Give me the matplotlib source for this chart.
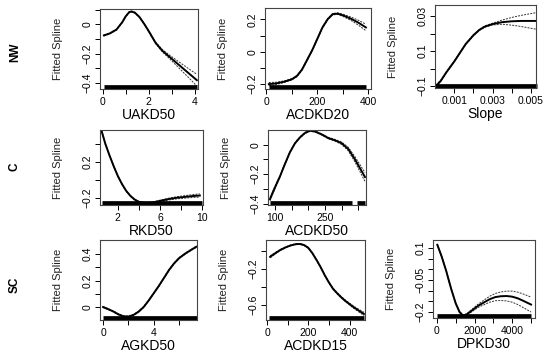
import matplotlib
matplotlib.use('Agg')
import matplotlib.pyplot as plt
import matplotlib.transforms as mtransforms
import numpy as np

plt.rcParams['font.family'] = ['Liberation Sans', 'DejaVu Sans']
plt.rcParams['axes.unicode_minus'] = True

W, H = 550, 359

# ---- curves (x, fitted spline, half width of band) ----
uakd50_x = [0.05, 0.3, 0.6, 0.85, 1.0, 1.15, 1.25, 1.4, 1.6, 1.8, 2.0, 2.3, 2.6, 2.9, 3.2, 3.5, 3.8, 4.1]
uakd50_y = [-0.075, -0.062, -0.035, 0.015, 0.055, 0.083, 0.088, 0.08, 0.05, 0.005, -0.045, -0.125, -0.18, -0.22, -0.26, -0.3, -0.34, -0.38]
uakd50_se = [0.004, 0.003, 0.003, 0.003, 0.003, 0.003, 0.003, 0.003, 0.003, 0.003, 0.004, 0.005, 0.008, 0.012, 0.018, 0.025, 0.032, 0.04]

acdkd20_x = [10, 40, 70, 100, 120, 140, 160, 180, 200, 220, 240, 260, 280, 300, 330, 360, 390]
acdkd20_y = [-0.2, -0.195, -0.185, -0.17, -0.15, -0.11, -0.05, 0.01, 0.08, 0.15, 0.2, 0.232, 0.235, 0.225, 0.205, 0.18, 0.15]
acdkd20_se = [0.01, 0.007, 0.005, 0.004, 0.004, 0.004, 0.004, 0.004, 0.004, 0.004, 0.004, 0.004, 0.005, 0.007, 0.01, 0.015, 0.02]

slope_x = [0.00005, 0.0003, 0.0006, 0.001, 0.0013, 0.0016, 0.002, 0.0023, 0.0026, 0.003, 0.0035, 0.004, 0.0045, 0.005, 0.0053]
slope_y = [-0.1, -0.07, -0.02, 0.04, 0.09, 0.14, 0.19, 0.22, 0.24, 0.254, 0.265, 0.27, 0.272, 0.272, 0.272]
slope_se = [0.006, 0.004, 0.003, 0.003, 0.003, 0.003, 0.003, 0.003, 0.004, 0.005, 0.012, 0.022, 0.032, 0.042, 0.048]

rkd50_x = [0.45, 0.8, 1.2, 1.6, 2.0, 2.4, 2.8, 3.2, 3.6, 4.0, 4.6, 5.2, 6.0, 6.8, 7.6, 8.4, 9.2, 9.8]
rkd50_y = [0.54, 0.4, 0.27, 0.15, 0.04, -0.05, -0.125, -0.18, -0.22, -0.245, -0.26, -0.255, -0.235, -0.215, -0.2, -0.19, -0.18, -0.175]
rkd50_se = [0.01, 0.008, 0.006, 0.005, 0.005, 0.005, 0.005, 0.005, 0.005, 0.005, 0.005, 0.006, 0.008, 0.01, 0.012, 0.014, 0.016, 0.018]

acdkd50_x = [85, 100, 115, 130, 145, 160, 175, 190, 205, 220, 240, 260, 280, 300, 320, 340, 355, 370]
acdkd50_y = [-0.37, -0.29, -0.215, -0.13, -0.05, 0.01, 0.05, 0.08, 0.095, 0.09, 0.07, 0.045, 0.03, 0.01, -0.03, -0.1, -0.16, -0.22]
acdkd50_se = [0.012, 0.008, 0.005, 0.004, 0.004, 0.004, 0.004, 0.004, 0.004, 0.004, 0.004, 0.005, 0.006, 0.008, 0.012, 0.018, 0.024, 0.03]

agkd50_x = [0, 0.4, 0.8, 1.2, 1.6, 2.0, 2.4, 2.8, 3.2, 3.6, 4.0, 4.4, 4.8, 5.2, 5.6, 6.0, 6.5, 7.0, 7.35]
agkd50_y = [0.0, -0.016, -0.033, -0.055, -0.07, -0.072, -0.06, -0.035, 0.0, 0.05, 0.105, 0.16, 0.22, 0.28, 0.33, 0.37, 0.405, 0.435, 0.455]
agkd50_se = [0.004] * 19

acdkd15_x = [15, 40, 65, 90, 115, 140, 160, 180, 200, 220, 240, 260, 280, 300, 320, 340, 360, 380, 400, 420, 440, 470]
acdkd15_y = [-0.065, -0.025, 0.012, 0.04, 0.062, 0.076, 0.078, 0.065, 0.035, -0.025, -0.1, -0.18, -0.27, -0.35,
             -0.42, -0.47, -0.515, -0.555, -0.59, -0.625, -0.655, -0.7]
acdkd15_se = [0.012, 0.008, 0.006, 0.005, 0.005, 0.005, 0.005, 0.005, 0.005, 0.005, 0.005, 0.005, 0.005, 0.005,
              0.006, 0.007, 0.008, 0.009, 0.01, 0.012, 0.014, 0.018]

dpkd30_x = [20, 250, 500, 750, 1000, 1200, 1400, 1600, 1900, 2200, 2500, 2800, 3100, 3400, 3700, 4000, 4300, 4600, 5000]
dpkd30_y = [0.115, 0.06, -0.01, -0.09, -0.16, -0.2, -0.218, -0.21, -0.19, -0.17, -0.155, -0.14, -0.13, -0.126,
            -0.125, -0.128, -0.136, -0.148, -0.165]
dpkd30_se = [0.003, 0.003, 0.003, 0.003, 0.003, 0.003, 0.003, 0.004, 0.006, 0.008, 0.011, 0.014, 0.017, 0.02,
             0.023, 0.026, 0.029, 0.032, 0.035]

# rug extents (observed x ranges)
rugs = {
    'UAKD50': [(0.05, 4.1)],
    'ACDKD20': [(10, 390)],
    'Slope': [(0.0, 0.0053)],
    'RKD50': [(0.45, 10.0)],
    'ACDKD50': [(85, 331), (346, 370)],
    'AGKD50': [(0, 7.4)],
    'ACDKD15': [(10, 470)],
    'DPKD30': [(0, 5000)],
}

regions = ['NW', 'C', 'SC']

# name, data, box (left, right, top, bottom in px), xlim, ylim, xticks, xlabels, yticks, ylabels
panels = [
    ('UAKD50', uakd50_x, uakd50_y, uakd50_se, (100, 198, 9, 89), (-0.12, 4.15), (-0.44, 0.105),
     [0, 1, 2, 3, 4], ['0', '', '2', '', '4'],
     [-0.4, -0.3, -0.2, -0.1, 0, 0.1], ['\u22120.4', '', '\u22120.2', '', '0', '']),
    ('ACDKD20', acdkd20_x, acdkd20_y, acdkd20_se, (265, 371, 8, 89), (-5, 410), (-0.23, 0.27),
     [0, 100, 200, 300, 400], ['0', '', '200', '', '400'],
     [-0.2, -0.1, 0, 0.1, 0.2], ['\u22120.2', '', '0', '', '0.2']),
    ('Slope', slope_x, slope_y, slope_se, (435, 536, 5, 88), (0.0, 0.00526), (-0.111, 0.363),
     [0.001, 0.002, 0.003, 0.004, 0.005], ['0.001', '', '0.003', '', '0.005'],
     [-0.1, 0, 0.1, 0.2, 0.3], ['\u22120.1', '', '0.1', '', '0.03']),
    ('RKD50', rkd50_x, rkd50_y, rkd50_se, (100, 203, 130, 205), (0.3, 10.1), (-0.28, 0.55),
     [2, 4, 6, 8, 10], ['2', '', '6', '', '10'],
     [-0.2, 0, 0.2, 0.4], ['\u22120.2', '', '0.2', '']),
    ('ACDKD50', acdkd50_x, acdkd50_y, acdkd50_se, (268, 366, 130, 205), (79, 373), (-0.41, 0.1),
     [100, 150, 200, 250, 300, 350], ['100', '', '', '250', '', ''],
     [-0.4, -0.3, -0.2, -0.1, 0], ['\u22120.4', '', '\u22120.2', '', '0']),
    ('AGKD50', agkd50_x, agkd50_y, agkd50_se, (100, 197, 240, 320), (-0.24, 7.4), (-0.098, 0.506),
     [0, 2, 4, 6], ['0', '', '4', ''],
     [0, 0.1, 0.2, 0.3, 0.4], ['0', '', '0.2', '', '0.4']),
    ('ACDKD15', acdkd15_x, acdkd15_y, acdkd15_se, (266, 365, 240, 320), (-5, 475), (-0.767, 0.122),
     [0, 100, 200, 300, 400], ['0', '', '200', '', '400'],
     [-0.6, -0.4, -0.2, 0], ['\u22120.6', '', '\u22120.2', '']),
    ('DPKD30', dpkd30_x, dpkd30_y, dpkd30_se, (433, 535, 240, 318), (-210, 5210), (-0.228, 0.1375),
     [0, 1000, 2000, 3000, 4000, 5000], ['0', '', '2000', '', '4000', ''],
     [-0.2, -0.15, -0.1, -0.05, 0, 0.05, 0.1], ['\u22120.2', '', '', '\u22120.05', '', '', '0.1']),
]

fig = plt.figure(figsize=(W / 100, H / 100), dpi=100)

for name, xs, ys, se, box, xlim, ylim, xt, xtl, yt, ytl in panels:
    l, r, t, b = box
    ax = fig.add_axes([l / W, 1 - b / H, (r - l) / W, (b - t) / H])
    xs = np.array(xs)
    ys = np.array(ys)
    se = np.array(se)
    ax.plot(xs, ys + se, color='#333333', lw=0.7, ls=(0, (2, 1.2)))
    ax.plot(xs, ys - se, color='#333333', lw=0.7, ls=(0, (2, 1.2)))
    ax.plot(xs, ys, color='black', lw=1.4)
    # rug along the bottom
    trans = mtransforms.blended_transform_factory(ax.transData, ax.transAxes)
    for a, c in rugs[name]:
        ax.plot([a, c], [0.025, 0.025], transform=trans, color='black', lw=3.4,
                solid_capstyle='butt', clip_on=False)
    ax.set_xlim(xlim)
    ax.set_ylim(ylim)
    ax.set_xticks(xt)
    ax.set_xticklabels(xtl)
    ax.set_yticks(yt)
    ax.set_yticklabels(ytl, rotation=90, va='center')
    ax.tick_params(length=3.5, width=0.7, labelsize=7.5, pad=2, colors='black')
    for s in ax.spines.values():
        s.set_linewidth(0.8)
        s.set_color('#444444')
    ax.set_xlabel(name, fontsize=10)
    ax.xaxis.set_label_coords(0.5, -19 / (b - t))
    ax.set_ylabel('Fitted Spline', fontsize=8, color='#222222')
    ax.yaxis.set_label_coords(-37 / (r - l), 0.5)

# region labels on the left
for lab, y in zip(regions, [52, 167, 285]):
    fig.text(15 / W, 1 - y / H, lab, rotation=90, fontsize=8.5, fontweight='bold',
             ha='center', va='center')

fig.savefig('out.png', dpi=100)
